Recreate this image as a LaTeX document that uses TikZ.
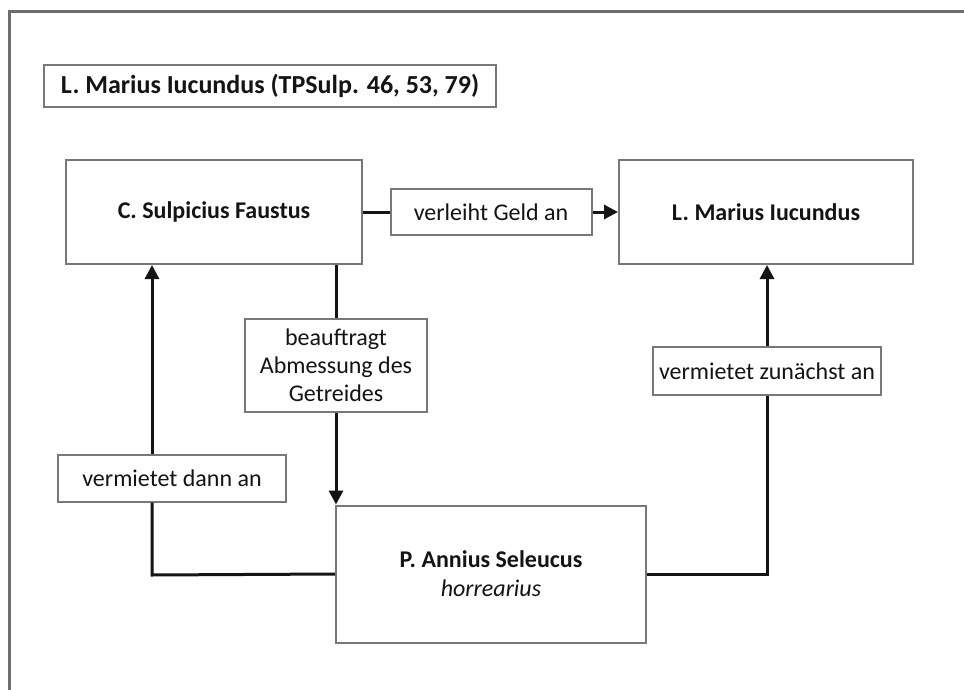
\documentclass[tikz,border=0pt]{standalone}
\usepackage{fontspec}
\setmainfont{Carlito}
\usetikzlibrary{arrows.meta, positioning, calc}
\definecolor{boxgray}{RGB}{120, 120, 120}
\definecolor{framegray}{RGB}{110, 110, 110}
\definecolor{inkblack}{RGB}{20, 20, 20}

\begin{document}
\begin{tikzpicture}[x=0.5pt, y=-0.5pt,
    party/.style={draw=boxgray, line width=1pt, fill=white, font=\fontsize{12}{14.5}\selectfont\bfseries, text=inkblack, align=center, inner sep=0pt},
    lbl/.style={draw=boxgray, line width=1pt, fill=white, font=\fontsize{12}{14}\selectfont, text=inkblack, align=center, inner sep=0pt},
    conn/.style={draw=inkblack, line width=1.5pt},
    arr/.style={conn, -{Triangle[length=7pt, width=7pt]}}]
  \useasboundingbox (0,0) rectangle (964,690);

  % Frame
  \draw[framegray, line width=1.5pt] (9,690) -- (9,12) -- (964,12);

  % Title
  \node[lbl, font=\fontsize{13}{15}\selectfont\bfseries, minimum width=226pt, minimum height=21pt] (title) at (270,86) {L. Marius Iucundus (TPSulp. 46, 53, 79)};

  % Parties
  \node[party, minimum width=148pt, minimum height=52pt] (sulp) at (214,212) {C. Sulpicius Faustus};
  \node[party, minimum width=147pt, minimum height=52pt] (marius) at (766,212) {L. Marius Iucundus};
  \node[party, minimum width=155pt, minimum height=68.5pt] (annius) at (491,574) {P. Annius Seleucus\\\normalfont\itshape horrearius};

  % Relations
  \node[lbl, minimum width=100.5pt, minimum height=23pt] (geld) at (491,212) {verleiht Geld an};
  \node[lbl, minimum width=91pt, minimum height=46.5pt] (beauf) at (336,365) {beauftragt\\Abmessung des\\Getreides};
  \node[lbl, minimum width=114pt, minimum height=23.5pt] (dann) at (172,478) {vermietet dann an};
  \node[lbl, minimum width=114pt, minimum height=24pt] (zun) at (767,371) {vermietet zunächst an};
  \coordinate (lbend) at (152,575);

  % Connectors
  \draw[conn] (sulp) -- (geld);
  \draw[arr] (geld) -- (marius);
  \draw[conn] (beauf.north |- sulp.south) -- (beauf.north);
  \draw[arr] (beauf.south) -- (beauf.south |- annius.north);
  \draw[conn] (annius.west) -- (lbend) -- (lbend |- dann.south);
  \draw[arr] (lbend |- dann.north) -- (lbend |- sulp.south);
  \draw[conn] (annius.east) -| (zun.south);
  \draw[arr] (zun.north) -- (zun.north |- marius.south);
\end{tikzpicture}
\end{document}
